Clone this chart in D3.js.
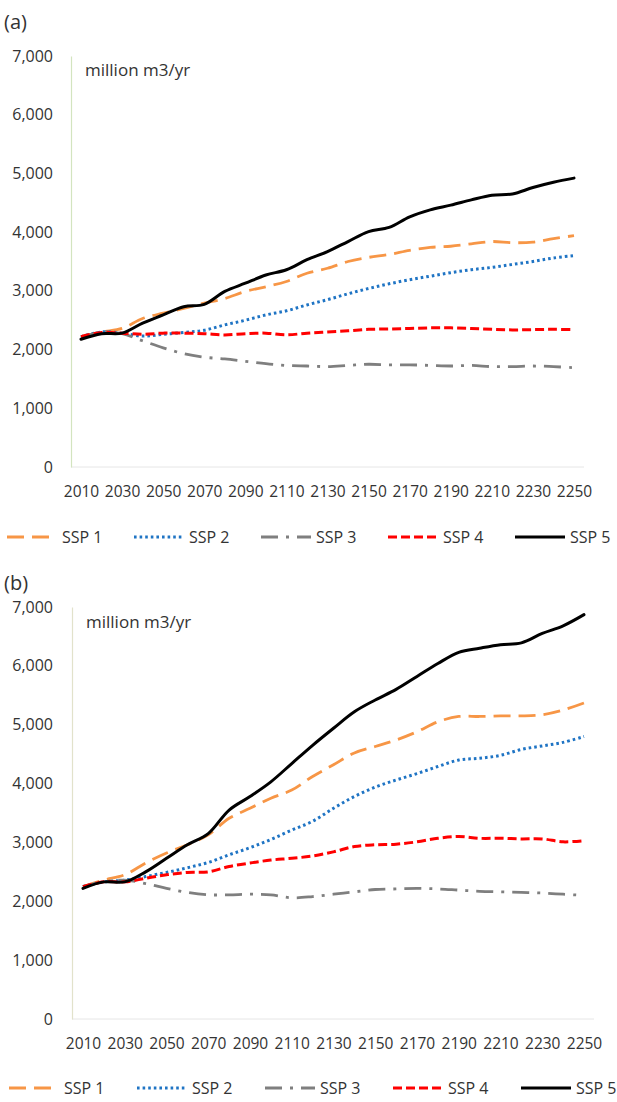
<!DOCTYPE html>
<html>
<head>
<meta charset="utf-8">
<script src="https://cdn.jsdelivr.net/npm/d3@7"></script>
<style>
  body { margin: 0; background: #fff; }
  svg text { font-family: "Open Sans", "DejaVu Sans", sans-serif; fill: #333333; }
</style>
</head>
<body>
<div id="chart"></div>
<script>
// categories
var years = [2010, 2020, 2030, 2040, 2050, 2060, 2070, 2080, 2090, 2100, 2110, 2120, 2130,
    2140, 2150, 2160, 2170, 2180, 2190, 2200, 2210, 2220, 2230, 2240, 2250];
var yearLabels = [2010, 2030, 2050, 2070, 2090, 2110, 2130, 2150, 2170, 2190, 2210, 2230, 2250];
var valueTicks = [0, 1000, 2000, 3000, 4000, 5000, 6000, 7000];
var seriesNames = ["SSP 1", "SSP 2", "SSP 3", "SSP 4", "SSP 5"];

// panel (a), million m3/yr
var ssp1A = [2220, 2300, 2360, 2530, 2620, 2700, 2790, 2870, 2990, 3070, 3160, 3300, 3385, 3500, 3570, 3620, 3690, 3740, 3760, 3800, 3840, 3820, 3830, 3890, 3940];
var ssp2A = [2220, 2300, 2280, 2230, 2260, 2290, 2330, 2420, 2500, 2590, 2660, 2760, 2850, 2950, 3040, 3120, 3190, 3250, 3310, 3360, 3400, 3450, 3500, 3560, 3600];
var ssp3A = [2200, 2300, 2270, 2150, 2030, 1930, 1870, 1840, 1800, 1760, 1730, 1720, 1710, 1730, 1750, 1740, 1740, 1730, 1720, 1730, 1710, 1710, 1720, 1710, 1690];
var ssp4A = [2220, 2290, 2280, 2260, 2280, 2280, 2270, 2250, 2270, 2280, 2250, 2280, 2300, 2320, 2345, 2350, 2360, 2370, 2370, 2360, 2345, 2335, 2340, 2345, 2340];
var ssp5A = [2175, 2270, 2280, 2450, 2590, 2730, 2770, 2990, 3130, 3270, 3360, 3530, 3670, 3840, 4010, 4080, 4260, 4380, 4460, 4550, 4630, 4650, 4760, 4850, 4920];

// panel (b), million m3/yr
var ssp1B = [2250, 2360, 2450, 2650, 2820, 2960, 3130, 3410, 3580, 3750, 3890, 4120, 4320, 4520, 4630, 4740, 4880, 5050, 5140, 5140, 5150, 5150, 5170, 5250, 5370];
var ssp2B = [2250, 2330, 2360, 2420, 2490, 2570, 2660, 2790, 2910, 3050, 3210, 3360, 3580, 3780, 3940, 4060, 4170, 4290, 4400, 4430, 4480, 4580, 4640, 4700, 4800];
var ssp3B = [2250, 2330, 2360, 2300, 2220, 2150, 2110, 2110, 2120, 2110, 2060, 2080, 2120, 2160, 2200, 2210, 2220, 2210, 2190, 2170, 2160, 2150, 2140, 2120, 2100];
var ssp4B = [2250, 2330, 2330, 2390, 2450, 2490, 2500, 2590, 2650, 2700, 2730, 2770, 2840, 2930, 2960, 2970, 3010, 3070, 3100, 3070, 3070, 3060, 3060, 3010, 3030];
var ssp5B = [2220, 2330, 2330, 2500, 2730, 2960, 3150, 3550, 3780, 4030, 4340, 4650, 4940, 5220, 5420, 5600, 5820, 6040, 6230, 6300, 6360, 6390, 6550, 6680, 6870];

// line styles, same order as seriesNames
var styles = [
    {color: "#F79646", width: 2.8, dash: "17,8", cap: "butt"},
    {color: "#1F74C4", width: 3, dash: "2.6,3", cap: "butt"},
    {color: "#7F7F7F", width: 2.8, dash: "17,8,3,8", cap: "butt"},
    {color: "#FF0000", width: 3, dash: "9,4", cap: "butt"},
    {color: "#000000", width: 3, dash: null, cap: "round"}
];

var svg = d3.select("#chart").append("svg")
    .attr("width", 617)
    .attr("height", 1102);

function drawPanel(cfg, data) {
    var g = svg.append("g");

    var x = d3.scalePoint().domain(years).range([cfg.x0, cfg.x1]);
    var y = d3.scaleLinear().domain([0, 7000]).range([cfg.yBottom, cfg.yTop]);

    // panel letter
    g.append("text")
        .attr("x", 4)
        .attr("y", cfg.letterY)
        .style("font-size", "20px")
        .text(cfg.letter);

    // baseline of the plot area
    g.append("line")
        .attr("x1", cfg.axisX).attr("x2", cfg.plotRight)
        .attr("y1", cfg.yBottom).attr("y2", cfg.yBottom)
        .attr("stroke", "#E6E6E6")
        .attr("stroke-width", 1);

    // y axis
    var yAxis = d3.axisLeft(y)
        .tickValues(valueTicks)
        .tickSize(0)
        .tickPadding(cfg.axisX - 53)
        .tickFormat(d3.format(","));
    var yg = g.append("g")
        .attr("transform", "translate(" + cfg.axisX + ",0)")
        .call(yAxis);
    yg.select(".domain").attr("stroke", cfg.axisColor).attr("stroke-width", 1.2);
    yg.selectAll("text")
        .style("font-size", "16px")
        .style("font-family", "'Open Sans', sans-serif")
        .attr("fill", "#333333");

    // x axis, labels every second category
    var xAxis = d3.axisBottom(x)
        .tickValues(yearLabels)
        .tickSize(0);
    var xg = g.append("g")
        .attr("transform", "translate(0," + cfg.yBottom + ")")
        .call(xAxis);
    xg.select(".domain").remove();
    xg.selectAll("text")
        .attr("y", cfg.labelY - cfg.yBottom)
        .attr("dy", 0)
        .style("font-size", "15.5px")
        .style("font-family", "'Open Sans', sans-serif")
        .attr("fill", "#333333");

    // unit label
    g.append("text")
        .attr("x", cfg.axisX + 14)
        .attr("y", cfg.unitY)
        .style("font-size", "17px")
        .text("million m3/yr");

    var line = d3.line()
        .x(function(d, i) { return x(years[i]); })
        .y(function(d) { return y(d); })
        .curve(d3.curveCatmullRom.alpha(0.5));

    data.forEach(function(values, k) {
        var s = styles[k];
        g.append("path")
            .datum(values)
            .attr("d", line)
            .attr("fill", "none")
            .attr("stroke", s.color)
            .attr("stroke-width", s.width)
            .attr("stroke-dasharray", s.dash)
            .attr("stroke-linecap", s.cap)
            .attr("stroke-linejoin", "round");
    });

    // legend
    var leg = g.selectAll(".legend_item")
        .data(seriesNames)
        .enter().append("g")
        .attr("class", "legend_item")
        .attr("transform", function(d, i) {
            return "translate(" + (cfg.legendX + i * cfg.legendStep) + "," + cfg.legendY + ")";
        });
    leg.append("line")
        .attr("x1", 0).attr("x2", 50)
        .attr("y1", 0).attr("y2", 0)
        .attr("stroke", function(d, i) { return styles[i].color; })
        .attr("stroke-width", function(d, i) { return styles[i].width; })
        .attr("stroke-dasharray", function(d, i) { return styles[i].dash; });
    leg.append("text")
        .attr("x", 55)
        .attr("y", 0)
        .attr("dy", "0.36em")
        .style("font-size", "16px")
        .text(function(d) { return d; });
}

drawPanel({
    letter: "(a)", letterY: 29,
    axisX: 71, plotRight: 584, x0: 81, x1: 574,
    yBottom: 467, yTop: 56, labelY: 497, unitY: 76,
    axisColor: "#D3E4BF",
    legendX: 7, legendStep: 127, legendY: 537
}, [ssp1A, ssp2A, ssp3A, ssp4A, ssp5A]);

drawPanel({
    letter: "(b)", letterY: 590,
    axisX: 72, plotRight: 594, x0: 83, x1: 584,
    yBottom: 1019, yTop: 607, labelY: 1049, unitY: 628,
    axisColor: "#E2E2CB",
    legendX: 9, legendStep: 128, legendY: 1088
}, [ssp1B, ssp2B, ssp3B, ssp4B, ssp5B]);
</script>
</body>
</html>
